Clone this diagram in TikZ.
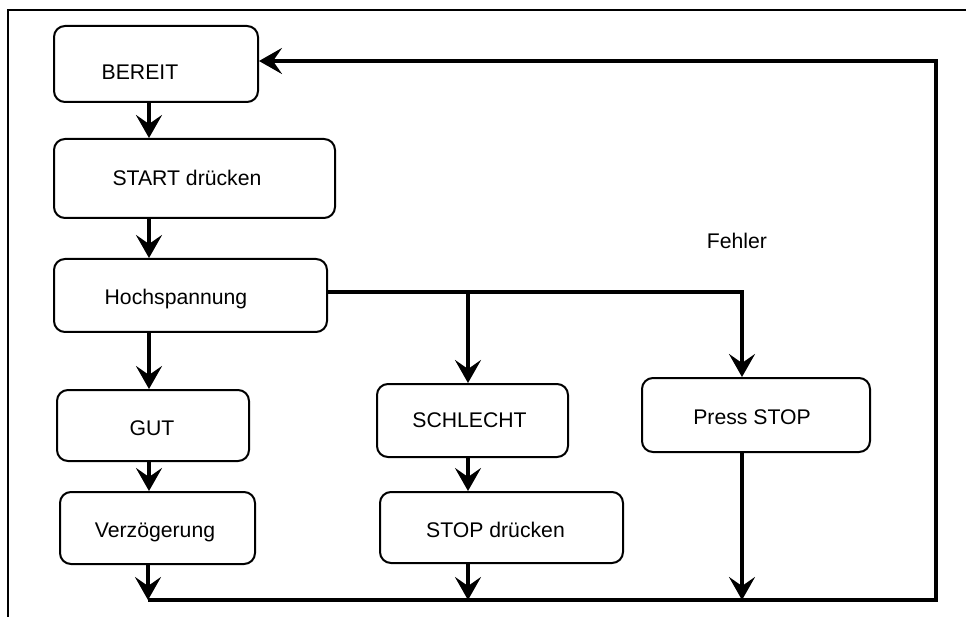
\documentclass[tikz,border=0pt]{standalone}
\usepackage{fontspec}
\setmainfont{Liberation Sans}
\usetikzlibrary{arrows.meta}
\begin{document}
\begin{tikzpicture}[x=1pt,y=-1pt,
  box/.style={draw,line width=2pt,rounded corners=11pt,inner sep=0pt},
  txt/.style={font=\fontsize{21.2}{25}\selectfont,inner sep=0pt},
  conn/.style={line width=3.5pt},
  arr/.style={conn,-{Stealth[length=23pt,width=26pt,inset=9pt]}}]
\useasboundingbox (0,0) rectangle (966,617);
\draw[line width=2.5pt] (8,617) -- (8,10) -- (966,10);
% boxes
\node[box,minimum width=204pt,minimum height=76pt] (bereit) at (156,64) {};
\node[box,minimum width=281pt,minimum height=79pt] (start) at (194.5,178.5) {};
\node[box,minimum width=273pt,minimum height=73pt] (hoch) at (190.5,295.5) {};
\node[box,minimum width=192pt,minimum height=71pt] (gut) at (153,425.5) {};
\node[box,minimum width=195pt,minimum height=72pt] (verz) at (157.5,528) {};
\node[box,minimum width=191pt,minimum height=73pt] (schlecht) at (472.5,420.5) {};
\node[box,minimum width=243pt,minimum height=71pt] (stopd) at (501.5,527.5) {};
\node[box,minimum width=228pt,minimum height=74pt] (press) at (756,415) {};
% texts
\node[txt] (tbereit) at (140,72) {BEREIT};
\node[txt] (tstart) at (187,178) {START drücken};
\node[txt] (thoch) at (176,299) {Hochspannung};
\node[txt] (tgut) at (152,428) {GUT};
\node[txt] (tverz) at (155,532) {Verzögerung};
\node[txt] (tschlecht) at (469.5,420) {SCHLECHT};
\node[txt] (tstopd) at (495.5,530) {STOP drücken};
\node[txt] (tpress) at (752,417) {Press STOP};
\node[txt] (fehler) at (737,241) {Fehler};
% coordinates
\coordinate (c1) at (149,0);
\coordinate (c2) at (468,0);
\coordinate (c3) at (742,0);
\coordinate (hy) at (0,292);
\coordinate (bl) at (148,600);
\coordinate (bm) at (468,600);
\coordinate (bp) at (742,600);
\coordinate (br) at (936,600);
\coordinate (tr) at (936,61);
% connectors
\draw[arr] (bereit.south -| c1) -- (start.north -| c1);
\draw[arr] (start.south -| c1) -- (hoch.north -| c1);
\draw[arr] (hoch.south -| c1) -- (gut.north -| c1);
\draw[arr] (gut.south -| c1) -- (verz.north -| c1);
\draw[arr] (verz.south -| bl) -- (bl);
\draw[arr] (hoch.east |- hy) -- (c3 |- hy) -- (press.north -| c3);
\draw[arr] (c2 |- hy) -- (schlecht.north -| c2);
\draw[arr] (schlecht.south -| c2) -- (stopd.north -| c2);
\draw[arr] (stopd.south -| bm) -- (bm);
\draw[arr] (press.south -| bp) -- (bp);
\draw[arr] (bl) -- (br) -- (tr) -- (tr -| bereit.east);
\end{tikzpicture}
\end{document}
